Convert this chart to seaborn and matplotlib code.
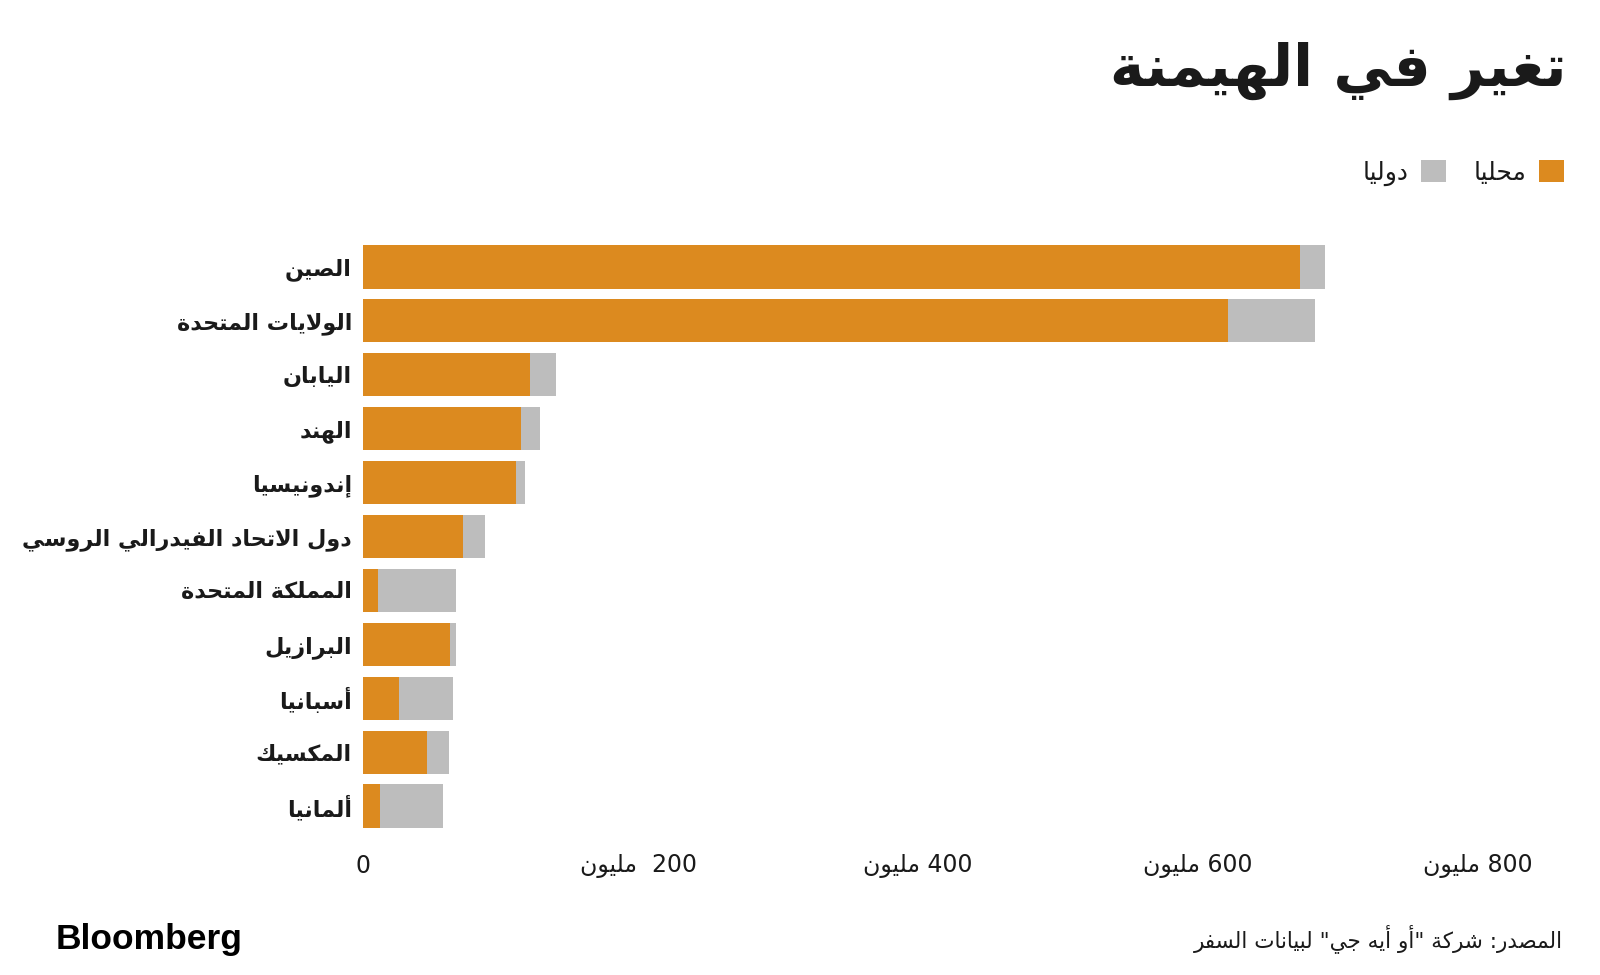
import re
import matplotlib
matplotlib.use("Agg")
import matplotlib.pyplot as plt
import matplotlib.transforms as mtransforms
import seaborn as sns
import pandas as pd
from matplotlib.patches import Patch

# ---------------- data ----------------
countries = ["الصين", "الولايات المتحدة", "اليابان", "الهند", "إندونيسيا",
             "دول الاتحاد الفيدرالي الروسي", "المملكة المتحدة", "البرازيل",
             "أسبانيا", "المكسيك", "ألمانيا"]
domestic = [669, 618, 119, 112.5, 109, 71.5, 10.5, 62, 26, 45.5, 12.3]
international = [18, 62, 19, 14, 7, 15.5, 56, 4.5, 38.5, 16, 45]
tick_values = [0, 200, 400, 600, 800]
tick_labels = ["0", "200  مليون", "400 مليون", "600 مليون", "800 مليون"]
legend_labels = ["محليا", "دوليا"]
title = "تغير في الهيمنة"
source = "المصدر: شركة \"أو أيه جي\" لبيانات السفر"

ORANGE = "#DC8A1F"
GRAY = "#BDBDBD"
DARK = "#1A1A1A"

# ------------- minimal Arabic shaping (presentation forms) -------------
_ORDER = "ءآأؤإئابةتثجحخدذرزسشصضطظعغفقكلمنهوىي"
_NFORMS = [1, 2, 2, 2, 2, 4, 2, 4, 2, 4, 4, 4, 4, 4, 2, 2, 2, 2, 4, 4,
           4, 4, 4, 4, 4, 4, 4, 4, 4, 4, 4, 4, 4, 2, 2, 4]
FORMS = {}
_code = 0xFE80
for _ch, _n in zip(_ORDER, _NFORMS):
    FORMS[_ch] = [chr(_code + k) for k in range(_n)]
    _code += _n
LAMALEF = {"آ": (0xFEF5, 0xFEF6), "أ": (0xFEF7, 0xFEF8),
           "إ": (0xFEF9, 0xFEFA), "ا": (0xFEFB, 0xFEFC)}


def _dual(c):
    return c in FORMS and len(FORMS[c]) == 4


def ar(s):
    out = []
    i, n = 0, len(s)
    prev_joins = False
    while i < n:
        c = s[i]
        if c == "ل" and i + 1 < n and s[i + 1] in LAMALEF:
            lig = LAMALEF[s[i + 1]]
            out.append(chr(lig[1] if prev_joins else lig[0]))
            prev_joins = False
            i += 2
            continue
        if c in FORMS:
            f = FORMS[c]
            jn = _dual(c) and i + 1 < n and s[i + 1] in FORMS
            jp = prev_joins
            if len(f) == 1:
                g = f[0]
            elif len(f) == 2:
                g = f[1] if jp else f[0]
            else:
                g = f[3] if (jp and jn) else f[1] if jp else f[2] if jn else f[0]
            out.append(g)
            prev_joins = _dual(c)
        else:
            out.append(c)
            prev_joins = False
        i += 1
    vis = "".join(out[::-1])
    return re.sub(r"[0-9]+", lambda m: m.group(0)[::-1], vis)


# ---------------- figure ----------------
sns.set_theme(style="white")
plt.rcParams["font.family"] = ["DejaVu Sans"]

df = pd.DataFrame({"country": countries, "domestic": domestic,
                   "international": international})
df["total"] = df["domestic"] + df["international"]

fig = plt.figure(figsize=(16, 9.75), dpi=100)
ax = fig.add_axes([363 / 1600, 1 - 833 / 975, 1148 / 1600, 593 / 975])

sns.barplot(data=df, y="country", x="total", color=GRAY, orient="h",
            width=0.8, ax=ax, saturation=1)
sns.barplot(data=df, y="country", x="domestic", color=ORANGE, orient="h",
            width=0.8, ax=ax, saturation=1)
for p in ax.patches:
    p.set_linewidth(0)

ax.set_xlim(0, 820)
ax.set_ylim(len(countries) - 0.5, -0.5)
ax.set_xlabel("")
ax.set_ylabel("")
ax.set_xticks(tick_values)
ax.set_xticklabels([ar(t) for t in tick_labels], fontsize=17, color=DARK)
ax.set_yticks(range(len(countries)))
ax.set_yticklabels([ar(c) for c in countries], fontsize=16,
                   fontweight="bold", color=DARK)
ax.tick_params(axis="x", length=0, pad=15)
ax.tick_params(axis="y", length=0, pad=8)
ax.grid(False)
sns.despine(ax=ax, left=True, bottom=True)

# nudge the "N مليون" labels slightly left, as in the reference
shift = mtransforms.ScaledTranslation(-5 / 100, 0, fig.dpi_scale_trans)
for lab in ax.get_xticklabels()[1:]:
    lab.set_transform(lab.get_transform() + shift)

# title
fig.text(1566 / 1600, 1 - 71 / 975, ar(title), ha="right", va="center",
         fontsize=42, fontweight="bold", color=DARK)

# legend (RTL: swatch on the right of the text)
handles = [Patch(facecolor=GRAY, edgecolor="none"),
           Patch(facecolor=ORANGE, edgecolor="none")]
fig.legend(handles, [ar(legend_labels[1]), ar(legend_labels[0])],
           loc="center right", bbox_to_anchor=(1586 / 1600, 1 - 173 / 975),
           ncol=2, frameon=False, markerfirst=False, fontsize=18,
           handlelength=1.0, handleheight=1.0, handletextpad=0.5,
           columnspacing=1.1, labelcolor=DARK)

# footer
fig.text(56 / 1600, 1 - 940 / 975, "Bloomberg", ha="left", va="center",
         fontsize=25.5, fontweight="bold", color="#000000",
         family=["Liberation Sans", "DejaVu Sans"])
fig.text(1563 / 1600, 1 - 939 / 975, ar(source), ha="right", va="center",
         fontsize=15.5, color=DARK)

fig.savefig("out.png", dpi=100, facecolor="white")
